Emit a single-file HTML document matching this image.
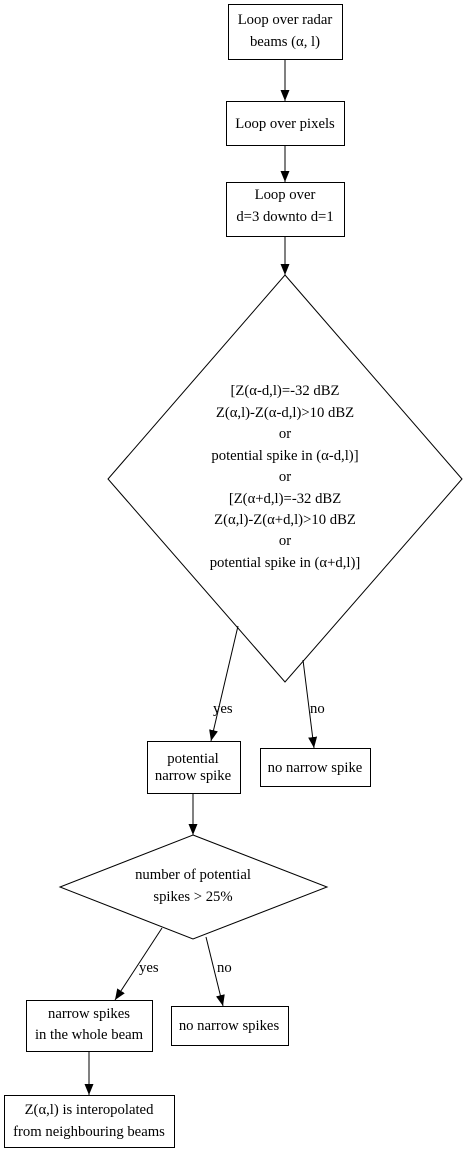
<!DOCTYPE html>
<html><head><style>body{margin:0;background:#fff}svg{display:block}text{font-family:"Liberation Serif",serif;font-size:14.7px;fill:#000}</style></head><body>
<svg width="464" height="1152" viewBox="0 0 464 1152" xmlns="http://www.w3.org/2000/svg">
<defs><marker id="a" markerWidth="12" markerHeight="12" refX="11" refY="5.5" orient="auto" markerUnits="userSpaceOnUse"><path d="M0,1 L11,5.5 L0,10 z" fill="#000"/></marker></defs>
<g fill="none" stroke="#000" stroke-width="1">
<rect x="228.5" y="4.5" width="114" height="55"/>
<rect x="226.5" y="101.5" width="118" height="44"/>
<rect x="226.5" y="182.5" width="118" height="54"/>
<polygon points="285,275 462,479 285,682 108,479"/>
<rect x="147.5" y="741.5" width="93" height="52"/>
<rect x="260.5" y="748.5" width="110" height="38"/>
<polygon points="193,835 327,887 193,939 60,887"/>
<rect x="26.5" y="1000.5" width="126" height="51"/>
<rect x="171.5" y="1006.5" width="117" height="39"/>
<rect x="4.5" y="1095.5" width="170" height="52"/>
<line x1="285" y1="60" x2="285" y2="101" marker-end="url(#a)"/>
<line x1="285" y1="146" x2="285" y2="182" marker-end="url(#a)"/>
<line x1="285" y1="237" x2="285" y2="275" marker-end="url(#a)"/>
<line x1="238" y1="626" x2="211" y2="741" marker-end="url(#a)"/>
<line x1="303" y1="660" x2="314" y2="748" marker-end="url(#a)"/>
<line x1="193" y1="794" x2="193" y2="835" marker-end="url(#a)"/>
<line x1="162" y1="928" x2="115" y2="1000" marker-end="url(#a)"/>
<line x1="206" y1="937" x2="223" y2="1006" marker-end="url(#a)"/>
<line x1="89" y1="1052" x2="89" y2="1095" marker-end="url(#a)"/>
</g>
<g text-anchor="middle">
<text x="285" y="24">Loop over radar</text>
<text x="285" y="46">beams (α, l)</text>
<text x="285" y="128">Loop over pixels</text>
<text x="285" y="199">Loop over</text>
<text x="285" y="221">d=3 downto d=1</text>
<text x="285" y="395">[Z(α-d,l)=-32 dBZ</text>
<text x="285" y="417">Z(α,l)-Z(α-d,l)&gt;10 dBZ</text>
<text x="285" y="438">or</text>
<text x="285" y="460">potential spike in (α-d,l)]</text>
<text x="285" y="481">or</text>
<text x="285" y="503">[Z(α+d,l)=-32 dBZ</text>
<text x="285" y="524">Z(α,l)-Z(α+d,l)&gt;10 dBZ</text>
<text x="285" y="545">or</text>
<text x="285" y="567">potential spike in (α+d,l)]</text>
<text x="193" y="763">potential</text>
<text x="193" y="780">narrow spike</text>
<text x="315" y="772">no narrow spike</text>
<text x="193" y="879">number of potential</text>
<text x="193" y="901">spikes &gt; 25%</text>
<text x="89" y="1018">narrow spikes</text>
<text x="89" y="1039">in the whole beam</text>
<text x="229" y="1030">no narrow spikes</text>
<text x="89" y="1114">Z(α,l) is interopolated</text>
<text x="89" y="1136">from neighbouring beams</text>
</g>
<text x="213" y="713">yes</text>
<text x="310" y="713">no</text>
<text x="139" y="972">yes</text>
<text x="217" y="972">no</text>
</svg>
</body></html>
